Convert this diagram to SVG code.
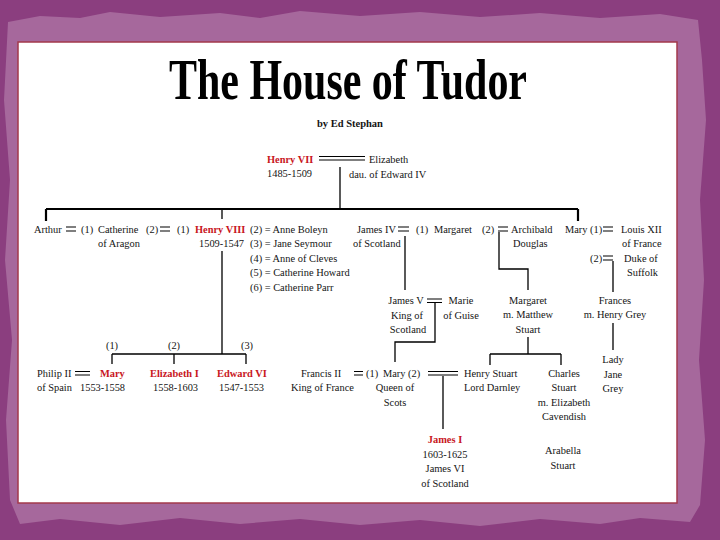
<svg xmlns="http://www.w3.org/2000/svg" width="720" height="540" viewBox="0 0 720 540">
<style>
.t{font-family:"Liberation Serif","Times New Roman",serif;font-size:10.4px;fill:#141414}
.m{text-anchor:middle}
.r{fill:#c8161d;font-weight:bold}
.ln{fill:none;stroke:#000;stroke-width:1.3}
.thick{fill:none;stroke:#000;stroke-width:2.2}
.eq{fill:none;stroke:#000;stroke-width:1.2}
</style>
<rect x="0" y="0" width="720" height="540" fill="#8b3e7f"/>
<path d="M8 22 L40 16 L80 18 L110 12 L160 17 L220 13 L260 18 L300 11 L360 16 L420 12 L480 17 L540 13 L600 18 L660 14 L698 20 L702 60 L706 120 L700 200 L704 280 L699 360 L705 440 L700 505 L690 522 L640 518 L600 524 L540 519 L480 526 L420 520 L360 525 L300 519 L240 524 L180 518 L120 525 L60 519 L20 524 L10 500 L6 420 L12 340 L5 260 L10 180 L4 100 Z" fill="#a6689c"/>
<rect x="18" y="42" width="659" height="461" fill="#fff" stroke="#a3394b" stroke-width="1.5"/>
<g id="title">
<text class="t m" x="348" y="99" style="font-size:58px;font-weight:bold;fill:#000" textLength="358" lengthAdjust="spacingAndGlyphs">The House of Tudor</text>
<text class="t m" x="350" y="127" style="font-size:10.5px;font-weight:bold">by Ed Stephan</text>
</g>
<g id="connectors">
<path class="eq" d="M319 156.5H365M319 160H365"/>
<path class="ln" d="M340 167V209"/>
<path class="thick" d="M46 209H578M46 209V221M578 209V221"/>
<path class="ln" d="M222 209V219M222 251V354"/>
<path class="eq" d="M66 227H76M66 231H76"/>
<path class="eq" d="M160 227H170M160 231H170"/>
<path class="eq" d="M398 227H409M398 231H409"/>
<path class="eq" d="M498 227H508M498 231H508"/>
<path class="eq" d="M603 227H613M603 231H613"/>
<path class="eq" d="M603 256H613M603 260H613"/>
<path class="ln" d="M405 236V290"/>
<path class="ln" d="M499 232V269H528V290"/>
<path class="ln" d="M613 261V292"/>
<path class="eq" d="M427 299H442M427 302.5H442"/>
<path class="ln" d="M435 303V342H395V362"/>
<path class="ln" d="M528 337V354M490 354H561M490 354V365M561 354V365"/>
<path class="ln" d="M613 323V350"/>
<path class="ln" d="M112 354H246M112 354V364M174 354V364M246 354V364"/>
<path class="eq" d="M75 371.5H90M75 375H90"/>
<path class="eq" d="M354 371.5H363M354 375H363"/>
<path class="eq" d="M428 371.5H458M428 375H458"/>
<path class="ln" d="M443 376V429"/>
</g>
<g id="henry7"><text class="t r" x="267" y="163">Henry VII</text><text class="t" x="267" y="177">1485-1509</text></g>
<g id="elizabeth-york"><text class="t" x="369" y="163">Elizabeth</text><text class="t" x="349" y="178">dau. of Edward IV</text></g>
<g id="arthur"><text class="t" x="34" y="233">Arthur</text></g>
<g id="catherine-aragon"><text class="t" x="81" y="233">(1)</text><text class="t" x="98" y="233">Catherine</text><text class="t" x="146" y="233">(2)</text><text class="t" x="98" y="247">of Aragon</text></g>
<g id="henry8"><text class="t" x="177" y="233">(1)</text><text class="t r" x="195" y="233">Henry VIII</text><text class="t" x="199" y="247">1509-1547</text></g>
<g id="wives"><text class="t" x="250" y="233">(2) = Anne Boleyn</text><text class="t" x="250" y="247">(3) = Jane Seymour</text><text class="t" x="250" y="262">(4) = Anne of Cleves</text><text class="t" x="250" y="276">(5) = Catherine Howard</text><text class="t" x="250" y="291">(6) = Catherine Parr</text></g>
<g id="james4"><text class="t" x="357" y="233">James IV</text><text class="t" x="353" y="247">of Scotland</text></g>
<g id="margaret"><text class="t" x="416" y="233">(1)</text><text class="t" x="434" y="233">Margaret</text><text class="t" x="482" y="233">(2)</text></g>
<g id="archibald"><text class="t" x="511" y="233">Archibald</text><text class="t" x="513" y="247">Douglas</text></g>
<g id="mary-tudor"><text class="t" x="565" y="233">Mary (1)</text></g>
<g id="louis12"><text class="t" x="621" y="233">Louis XII</text><text class="t" x="622" y="247">of France</text></g>
<g id="suffolk"><text class="t" x="590" y="262">(2)</text><text class="t" x="624" y="262">Duke of</text><text class="t" x="627" y="276">Suffolk</text></g>
<g id="james5"><text class="t m" x="406" y="304">James V</text><text class="t m" x="407" y="319">King of</text><text class="t m" x="408" y="333">Scotland</text></g>
<g id="marie-guise"><text class="t m" x="461" y="304">Marie</text><text class="t m" x="461" y="319">of Guise</text></g>
<g id="margaret-douglas"><text class="t m" x="528" y="304">Margaret</text><text class="t m" x="528" y="318">m. Matthew</text><text class="t m" x="528" y="333">Stuart</text></g>
<g id="frances"><text class="t m" x="615" y="304">Frances</text><text class="t m" x="615" y="318">m. Henry Grey</text></g>
<g id="children-labels"><text class="t m" x="112" y="349">(1)</text><text class="t m" x="174" y="349">(2)</text><text class="t m" x="247" y="349">(3)</text></g>
<g id="philip2"><text class="t" x="37" y="377">Philip II</text><text class="t" x="37" y="391">of Spain</text></g>
<g id="mary1"><text class="t r" x="100" y="377">Mary</text><text class="t" x="80" y="391">1553-1558</text></g>
<g id="elizabeth1"><text class="t r" x="150" y="377">Elizabeth I</text><text class="t" x="153" y="391">1558-1603</text></g>
<g id="edward6"><text class="t r" x="217" y="377">Edward VI</text><text class="t" x="219" y="391">1547-1553</text></g>
<g id="francis2"><text class="t" x="301" y="377">Francis II</text><text class="t" x="291" y="391">King of France</text></g>
<g id="mary-scots"><text class="t" x="366" y="377">(1)</text><text class="t" x="383" y="377">Mary (2)</text><text class="t m" x="395" y="391">Queen of</text><text class="t m" x="395" y="406">Scots</text></g>
<g id="darnley"><text class="t" x="464" y="377">Henry Stuart</text><text class="t" x="464" y="391">Lord Darnley</text></g>
<g id="charles"><text class="t m" x="564" y="377">Charles</text><text class="t m" x="564" y="391">Stuart</text><text class="t m" x="564" y="406">m. Elizabeth</text><text class="t m" x="564" y="420">Cavendish</text></g>
<g id="jane-grey"><text class="t m" x="613" y="363">Lady</text><text class="t m" x="613" y="378">Jane</text><text class="t m" x="613" y="392">Grey</text></g>
<g id="james1"><text class="t r m" x="445" y="443">James I</text><text class="t m" x="445" y="458">1603-1625</text><text class="t m" x="445" y="472">James VI</text><text class="t m" x="445" y="487">of Scotland</text></g>
<g id="arabella"><text class="t m" x="563" y="454">Arabella</text><text class="t m" x="563" y="469">Stuart</text></g>
</svg>
